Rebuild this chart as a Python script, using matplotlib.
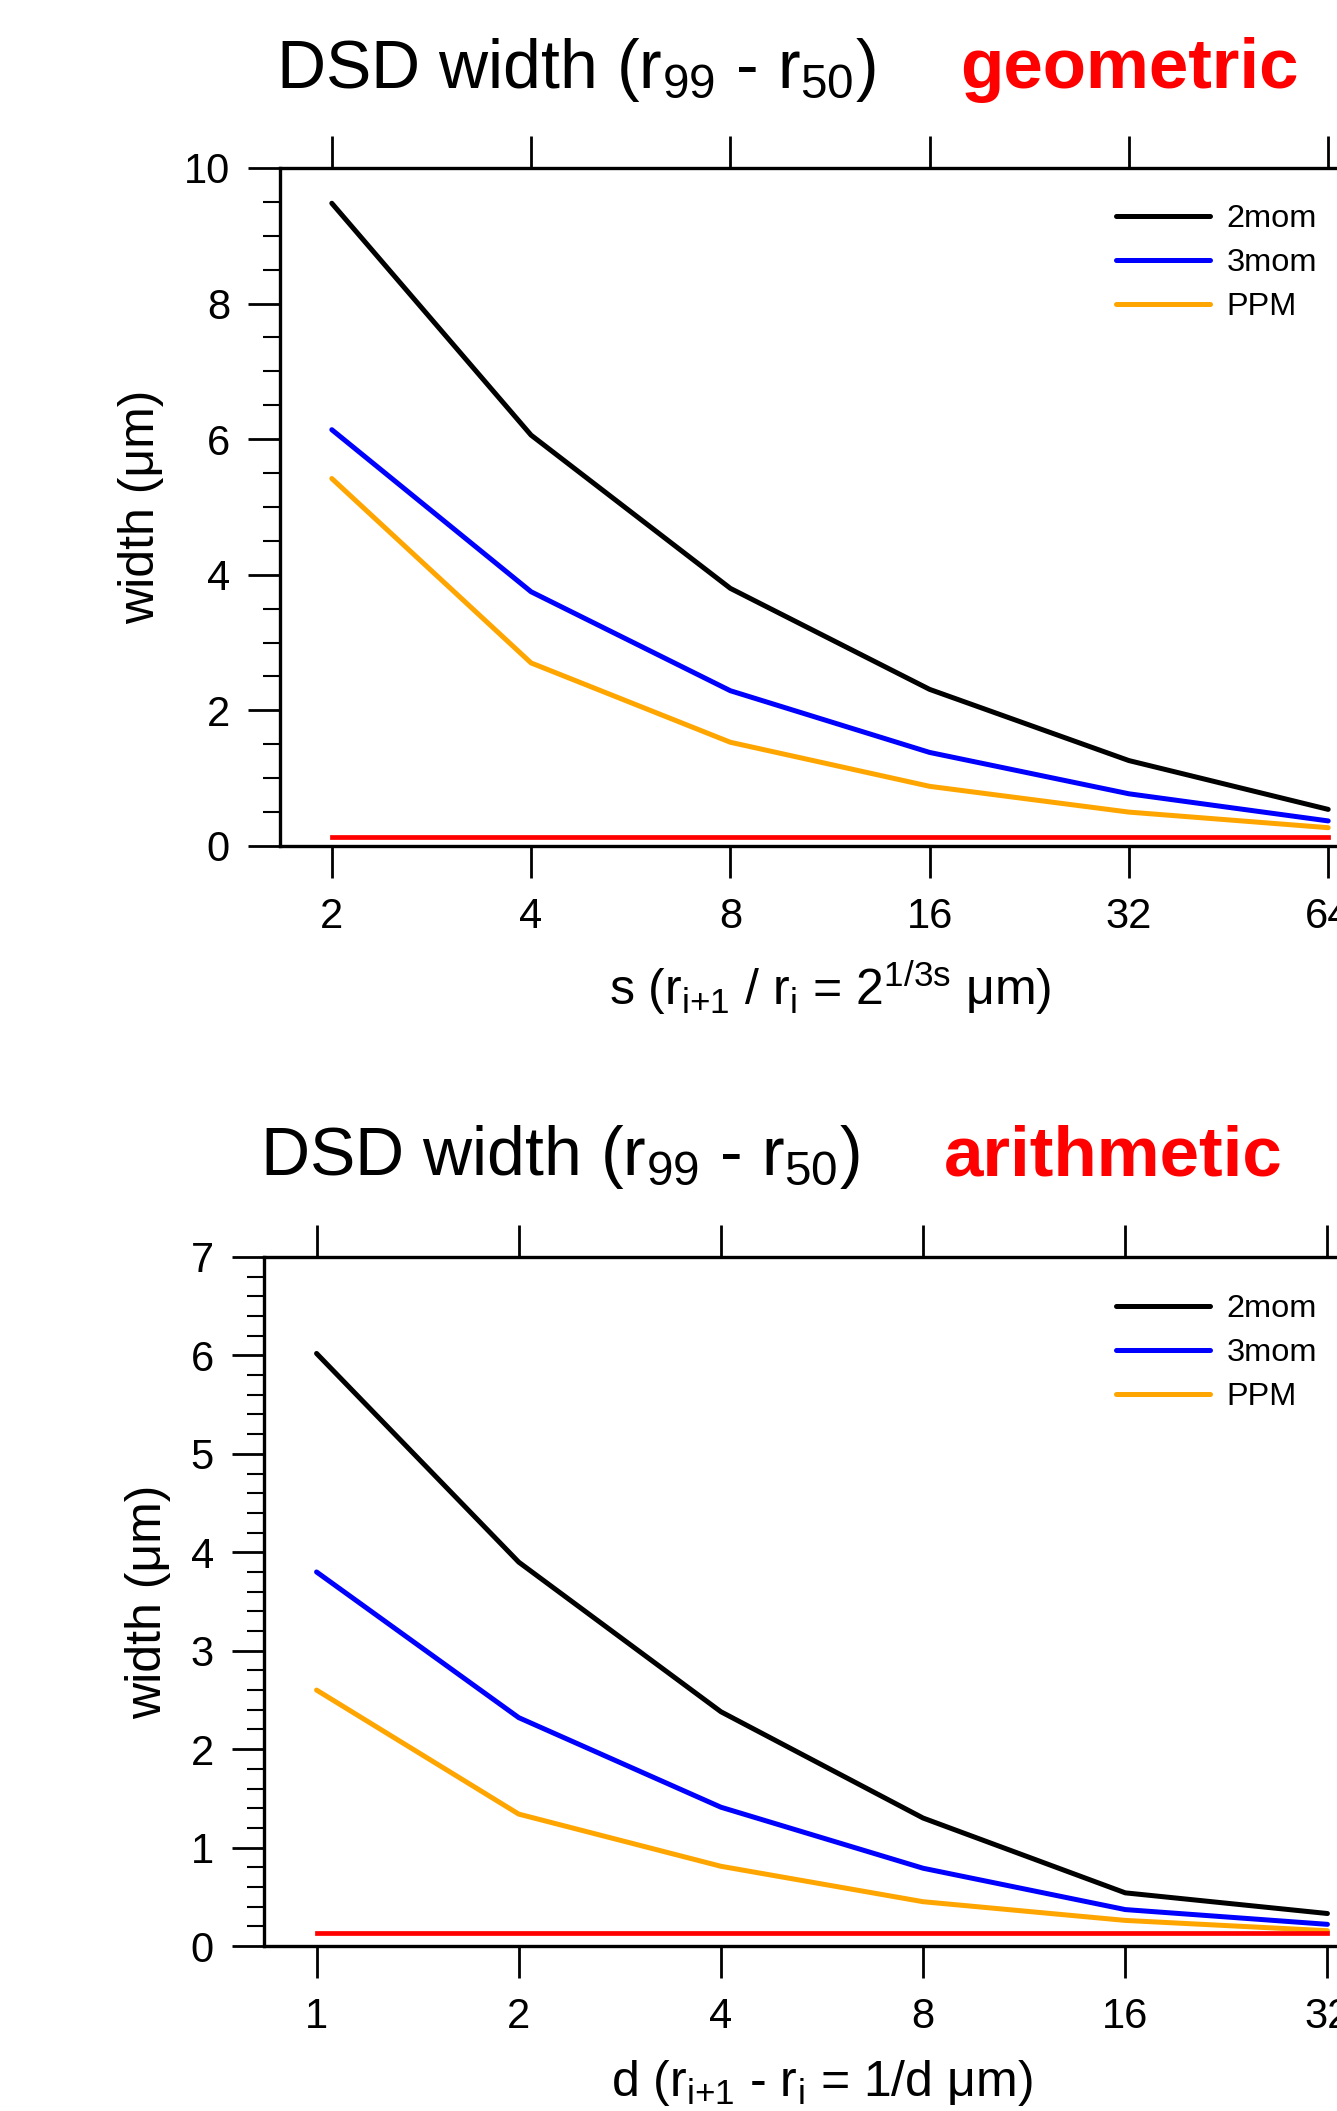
import numpy as np
import matplotlib
matplotlib.use('Agg')
import matplotlib.pyplot as plt
from matplotlib.ticker import MultipleLocator, NullLocator, FixedLocator
from matplotlib.lines import Line2D

plt.rcParams['font.family'] = ['Liberation Sans', 'DejaVu Sans']
plt.rcParams['mathtext.default'] = 'regular'

# geometric grid: s values and DSD width (um)
s_vals = [2, 4, 8, 16, 32, 64]
geo_2mom = [9.48, 6.06, 3.80, 2.31, 1.26, 0.54]
geo_3mom = [6.14, 3.75, 2.29, 1.38, 0.77, 0.37]
geo_ppm = [5.42, 2.70, 1.53, 0.88, 0.50, 0.27]
geo_ref = 0.13

# arithmetic grid: d values and DSD width (um)
d_vals = [1, 2, 4, 8, 16, 32]
ari_2mom = [6.02, 3.90, 2.38, 1.30, 0.54, 0.33]
ari_3mom = [3.80, 2.32, 1.41, 0.79, 0.37, 0.22]
ari_ppm = [2.60, 1.34, 0.81, 0.45, 0.26, 0.155]
ari_ref = 0.135

series_names = ['2mom', '3mom', 'PPM']
series_colors = ['black', 'blue', 'orange']

W, H = 1337, 2111


def box(l, t, r, b):
    return [l / W, 1 - b / H, (r - l) / W, (b - t) / H]


def draw_panel(ax, xv, ys, ref, ymax, major, minor, xlabel, leg_top):
    for y, c in zip(ys, series_colors):
        ax.plot(xv, y, color=c, lw=3.6, solid_capstyle='round')
    ax.plot(xv, [ref] * len(xv), color='red', lw=3.4)

    ax.set_xscale('log', base=2)
    ax.set_xlim(xv[0] * 2 ** -0.26, xv[-1] * 2 ** 0.26)
    ax.xaxis.set_major_locator(FixedLocator(xv))
    ax.xaxis.set_minor_locator(NullLocator())
    ax.set_xticks(xv, [str(v) for v in xv])
    ax.set_ylim(0, ymax)
    ax.yaxis.set_major_locator(MultipleLocator(major))
    ax.yaxis.set_minor_locator(MultipleLocator(minor))

    for sp in ax.spines.values():
        sp.set_linewidth(2.4)
    ax.tick_params(axis='x', which='major', direction='out', length=23, width=2,
                   top=True, labeltop=False, labelsize=30, pad=14)
    ax.tick_params(axis='y', which='major', direction='out', length=23, width=2,
                   right=False, labelsize=30, pad=13)
    ax.tick_params(axis='y', which='minor', direction='out', length=12, width=1.5,
                   right=False)

    ax.set_xlabel(xlabel, fontsize=36, labelpad=15)
    ax.set_ylabel('width (μm)', fontsize=36, labelpad=14)

    handles = [Line2D([], [], color=c, lw=3.6, solid_capstyle='round') for c in series_colors]
    ax.legend(handles, series_names, loc='upper left', frameon=False, fontsize=23.4,
              handlelength=2.9, handletextpad=0.5, labelspacing=0.43,
              borderaxespad=0, borderpad=0,
              bbox_to_anchor=(1116 / W, 1 - leg_top / H), bbox_transform=fig.transFigure)


fig = plt.figure(figsize=(13.37, 21.11), dpi=100)

ax1 = fig.add_axes(box(280, 168, 1380, 846))
draw_panel(ax1, s_vals, [geo_2mom, geo_3mom, geo_ppm], geo_ref, 10, 2, 0.5,
           r's (r$_{i{+}1}$ / r$_i$ = 2$^{1/3s}$ μm)', 204)

ax2 = fig.add_axes(box(264, 1257, 1380, 1946))
draw_panel(ax2, d_vals, [ari_2mom, ari_3mom, ari_ppm], ari_ref, 7, 1, 0.2,
           r'd (r$_{i{+}1}$ - r$_i$ = 1/d μm)', 1294)

fig.text(276 / W, 1 - 88 / H, r'DSD width (r$_{99}$ - r$_{50}$)', fontsize=49,
         ha='left', va='baseline')
fig.text(960 / W, 1 - 88 / H, 'geometric', fontsize=51, fontweight='bold',
         color='red', ha='left', va='baseline')
fig.text(260 / W, 1 - 1175 / H, r'DSD width (r$_{99}$ - r$_{50}$)', fontsize=49,
         ha='left', va='baseline')
fig.text(944 / W, 1 - 1175 / H, 'arithmetic', fontsize=51, fontweight='bold',
         color='red', ha='left', va='baseline')

fig.savefig('out.png', dpi=100)
